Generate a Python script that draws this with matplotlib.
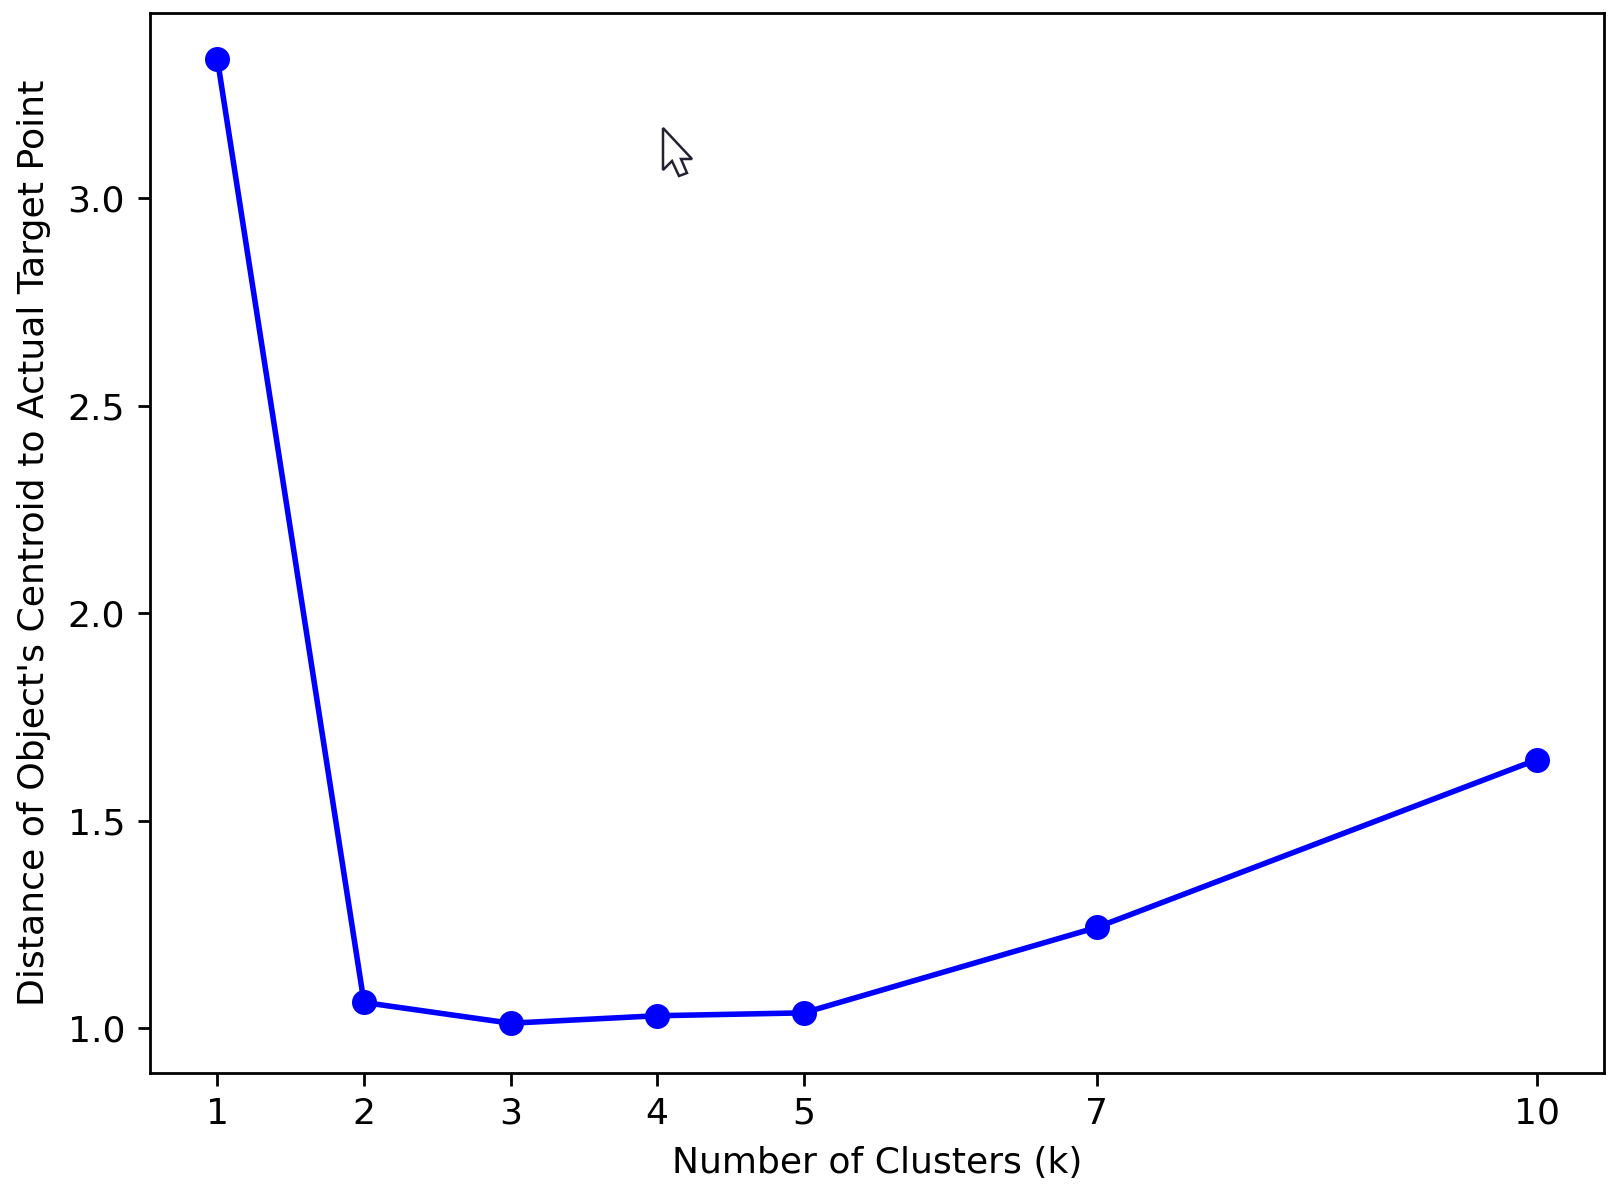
import matplotlib
matplotlib.use("Agg")
import matplotlib.pyplot as plt
from matplotlib.patches import Polygon

clusters = [1, 2, 3, 4, 5, 7, 10]
distances = [3.335, 1.062, 1.012, 1.03, 1.037, 1.243, 1.647]

W, H = 1617, 1191
fig = plt.figure(figsize=(W / 200, H / 200), dpi=200)
ax = fig.add_axes([150 / W, 1 - 1073 / H, (1604 - 150) / W, (1073 - 13) / H])

ax.plot(clusters, distances, color="blue", marker="o", markersize=8, linewidth=2)
ax.set_xticks(clusters)
ax.set_yticks([1.0, 1.5, 2.0, 2.5, 3.0])
ax.set_xlabel("Number of Clusters (k)", fontsize=13, labelpad=5.5)
ax.set_ylabel("Distance of Object's Centroid to Actual Target Point", fontsize=13.05, labelpad=6)
ax.tick_params(labelsize=13, width=1, length=4.5)
ax.tick_params(axis="x", pad=4)
ax.tick_params(axis="y", pad=4.5)
ax.set_xlim(0.54, 10.46)
ax.set_ylim(0.892, 3.447)
for s in ax.spines.values():
    s.set_linewidth(1)

# mouse pointer caught in the screenshot
cursor = [(663, 128), (663, 170), (672, 161), (679, 176), (687, 173), (681, 159), (692, 159)]
fig.add_artist(Polygon([(x / W, 1 - y / H) for x, y in cursor], closed=True,
                       transform=fig.transFigure, facecolor="white", edgecolor="#222233", linewidth=0.9))

fig.savefig("out.png", dpi=200)
